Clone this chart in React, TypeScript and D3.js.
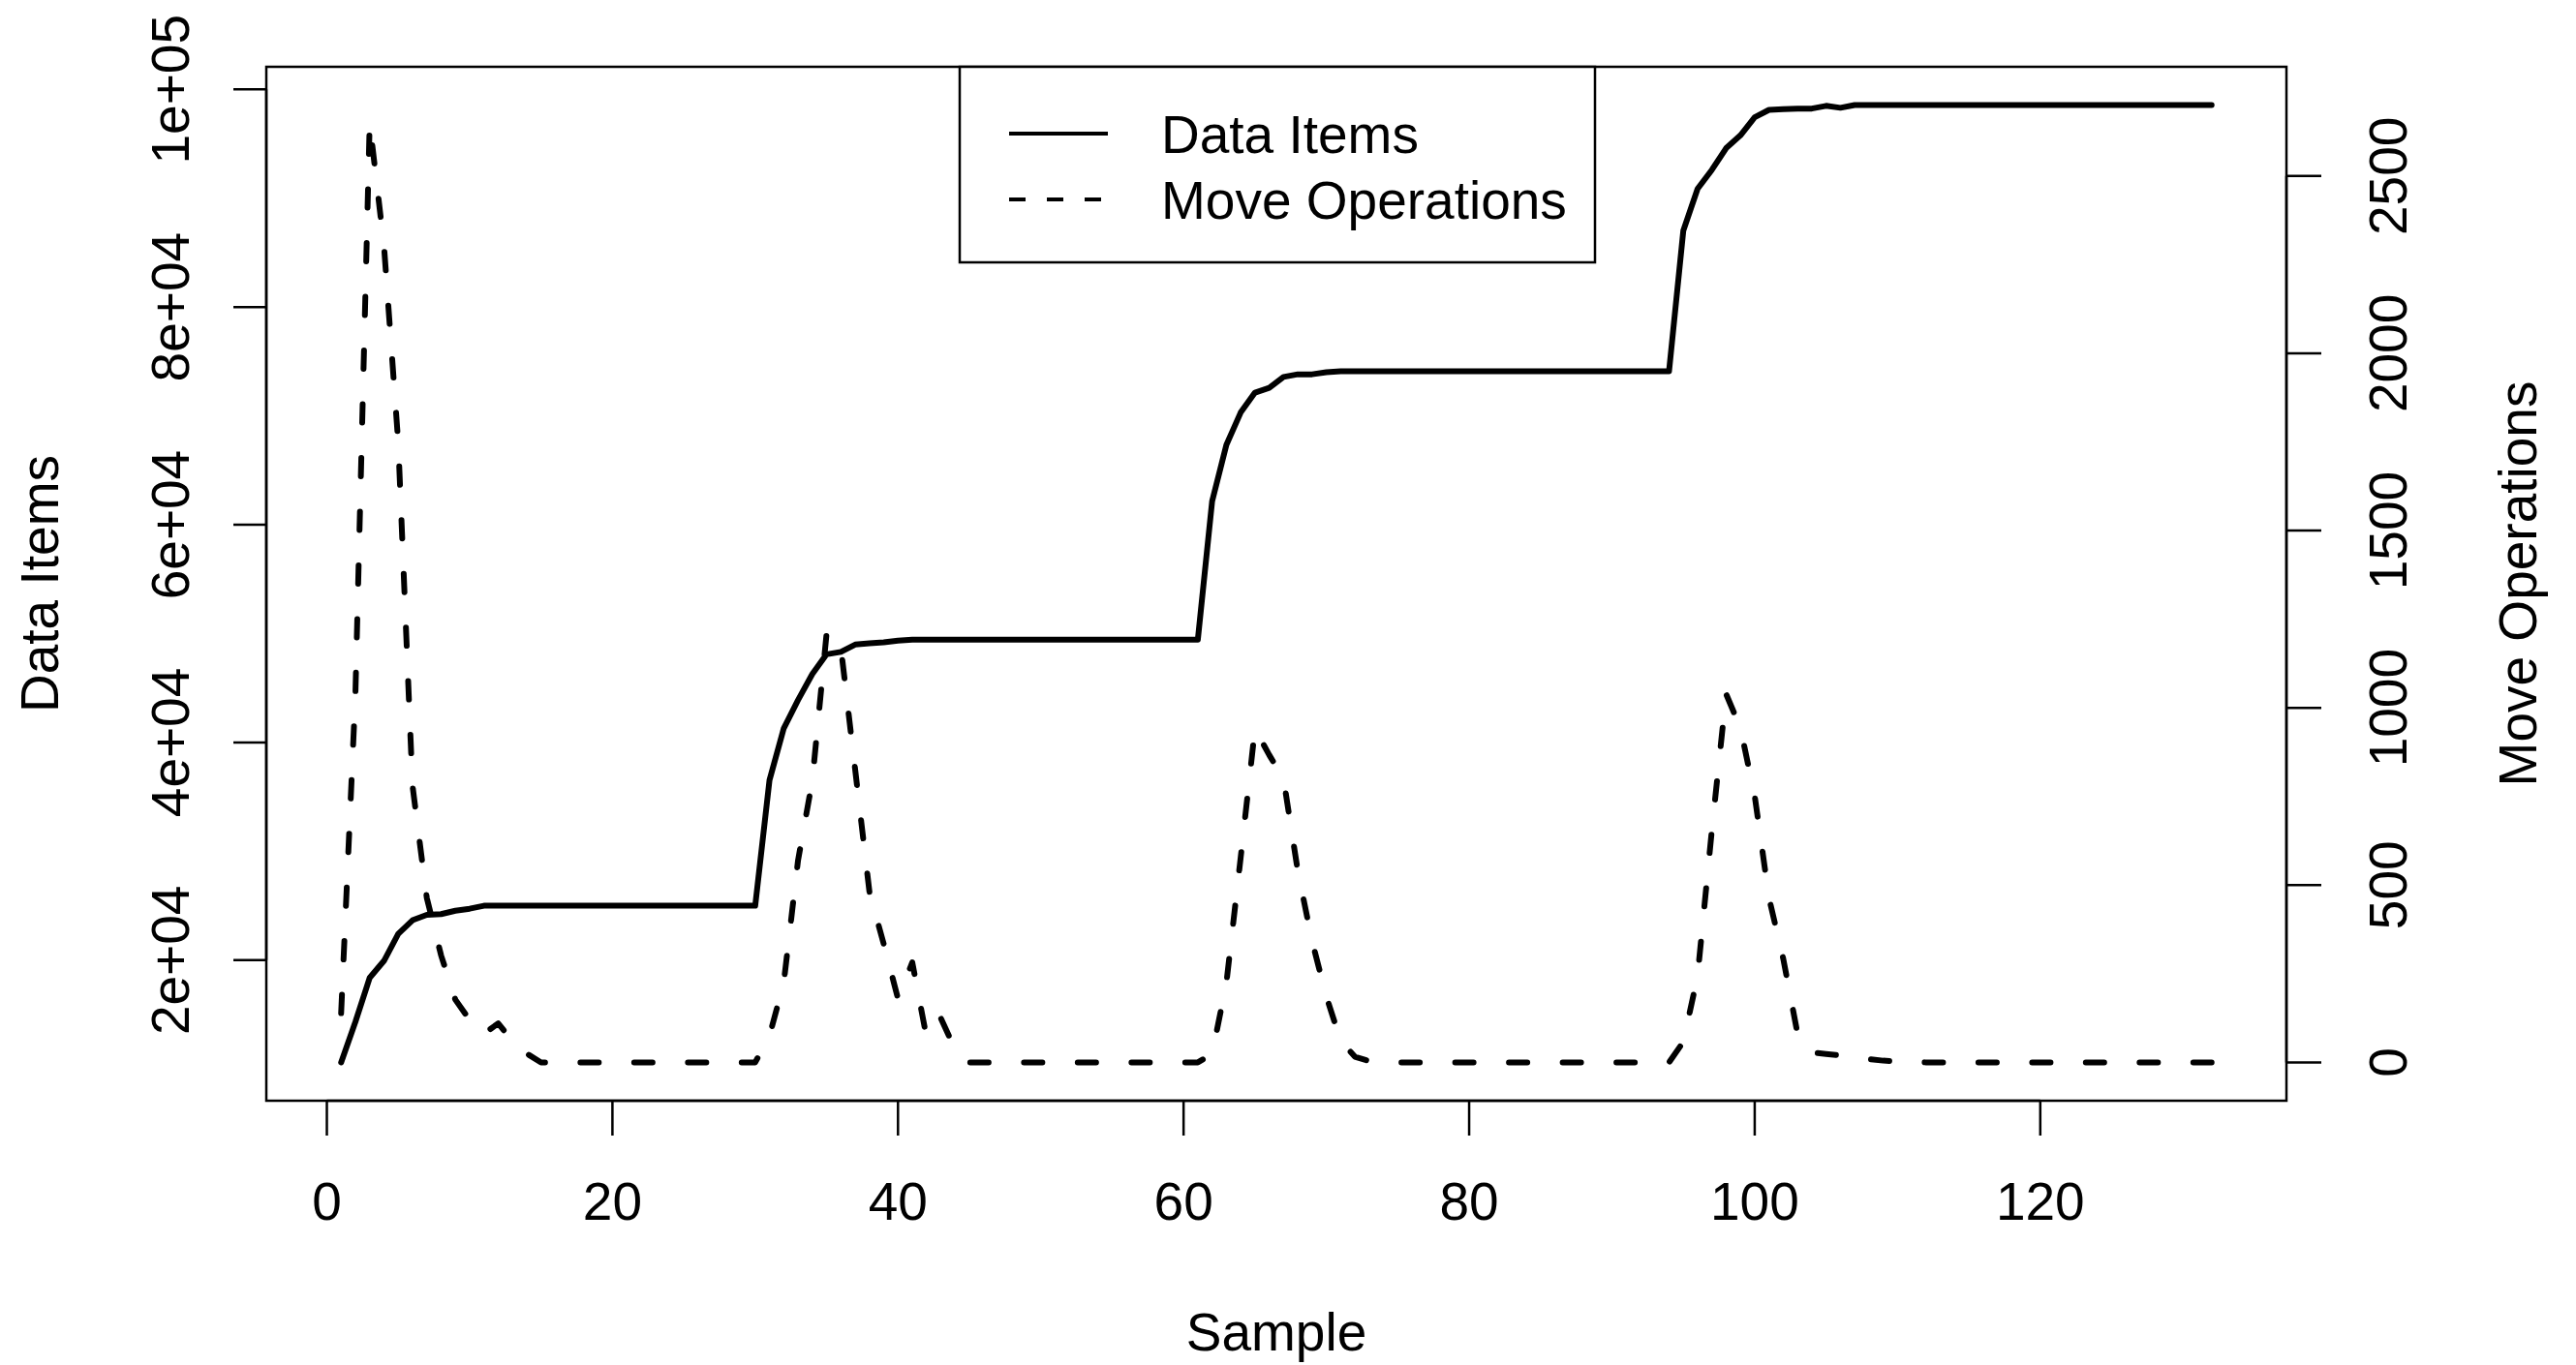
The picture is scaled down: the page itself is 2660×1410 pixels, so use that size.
import React from "react";
import * as d3 from "d3";

// sample index 1..132
const samples = d3.range(1, 133);

const dataItems = [
  10608, 14340, 18383, 19938, 22426, 23670, 24167, 24230, 24541, 24727,
  25000, 25000, 25000, 25000, 25000, 25000, 25000, 25000, 25000, 25000,
  25000, 25000, 25000, 25000, 25000, 25000, 25000, 25000, 25000, 25000,
  36540, 41300, 43900, 46280, 48100, 48320, 48990, 49100, 49200, 49360,
  49450, 49450, 49450, 49450, 49450, 49450, 49450, 49450, 49450, 49450,
  49450, 49450, 49450, 49450, 49450, 49450, 49450, 49450, 49450, 49450, 49450,
  62160, 67340, 70310, 72140, 72570, 73580, 73820, 73820, 74010,
  74100, 74100, 74100, 74100, 74100, 74100, 74100, 74100, 74100, 74100,
  74100, 74100, 74100, 74100, 74100, 74100, 74100, 74100, 74100, 74100,
  74100, 74100, 74100, 74100,
  87010, 90860, 92600, 94590, 95770, 97430, 98110, 98170, 98230, 98230, 98480, 98300,
  98550, 98550, 98550, 98550, 98550, 98550, 98550, 98550, 98550, 98550,
  98550, 98550, 98550, 98550, 98550, 98550, 98550, 98550, 98550, 98550,
  98550, 98550, 98550, 98550, 98550, 98550,
];

const moveOps = [
  139, 1039, 2650, 2304, 1748, 780, 464, 302, 177, 120, 81, 110, 60, 25,
  0, 0, 0, 0, 0, 0, 0, 0, 0, 0, 0, 0, 0, 0, 0, 0,
  75, 225, 570, 795, 1210, 1170, 826, 481, 334, 180, 282, 71, 125, 37,
  0, 0, 0, 0, 0, 0, 0, 0, 0, 0, 0, 0, 0, 0, 0, 0, 0,
  24, 224, 578, 941, 867, 800, 540, 342, 186, 61, 16, 4,
  0, 0, 0, 0, 0, 0, 0, 0, 0, 0, 0, 0, 0, 0, 0, 0, 0, 0, 0, 0, 0,
  58, 244, 656, 1039, 943, 752, 464, 292, 81, 28, 24, 20, 16, 9, 5, 3, 2,
  0, 0, 0, 0, 0, 0, 0, 0, 0, 0, 3, 0, 0, 0, 0, 0, 0, 0, 0, 0, 0,
];

const xTicks = [0, 20, 40, 60, 80, 100, 120];
const leftTicks = [20000, 40000, 60000, 80000, 100000];
const leftTickLabels = ["2e+04", "4e+04", "6e+04", "8e+04", "1e+05"];
const rightTicks = [0, 500, 1000, 1500, 2000, 2500];
const moveYlim = [0, 2700];

const legendLabels = ["Data Items", "Move Operations"];

// R style axis range: pad 4% each side
const pad = ([a, b]: number[]) => {
  const d = b - a;
  return [a - 0.04 * d, b + 0.04 * d];
};

export default function App() {
  const width = 2660;
  const height = 1410;
  const left = 275;
  const right = 2361;
  const top = 69;
  const bottom = 1137;
  const font = "'Liberation Sans', Arial, Helvetica, sans-serif";
  const fs = 55;

  const x = d3.scaleLinear().domain(pad([1, samples.length])).range([left, right]);
  const yL = d3.scaleLinear()
    .domain(pad(d3.extent(dataItems) as number[]))
    .range([bottom, top]);
  const yR = d3.scaleLinear().domain(pad(moveYlim)).range([bottom, top]);

  const itemsLine = d3.line<number>()
    .x((_, i) => x(samples[i]))
    .y((d) => yL(d))(dataItems) as string;
  const movesLine = d3.line<number>()
    .x((_, i) => x(samples[i]))
    .y((d) => yR(d))(moveOps) as string;

  const cx = (left + right) / 2;
  const cy = (top + bottom) / 2;

  // legend
  const lgLeft = 991;
  const lgRight = 1647;
  const lgBottom = 271;
  const rowY = [138, 206];

  return (
    <svg
      width={width}
      height={height}
      viewBox={`0 0 ${width} ${height}`}
      style={{ position: "absolute", left: 0, top: 0, background: "#fff" }}
      fontFamily={font}
      fontSize={fs}
    >
      <rect x={0} y={0} width={width} height={height} fill="#fff" />

      {/* series */}
      <path d={itemsLine} fill="none" stroke="#000" strokeWidth={6}
        strokeLinejoin="round" strokeLinecap="round" />
      <path d={movesLine} fill="none" stroke="#000" strokeWidth={6}
        strokeDasharray="19 36.5" strokeLinejoin="round" strokeLinecap="round" />

      {/* box */}
      <rect x={left} y={top} width={right - left} height={bottom - top}
        fill="none" stroke="#000" strokeWidth={2.5} />

      {/* x axis */}
      <g stroke="#000" strokeWidth={2.5}>
        <line x1={x(xTicks[0])} x2={x(xTicks[xTicks.length - 1])} y1={bottom} y2={bottom} />
        {xTicks.map((t) => (
          <line key={t} x1={x(t)} x2={x(t)} y1={bottom} y2={bottom + 36} />
        ))}
      </g>
      {xTicks.map((t) => (
        <text key={t} x={x(t)} y={1260} textAnchor="middle">{t}</text>
      ))}
      <text x={cx} y={1395} textAnchor="middle">Sample</text>

      {/* left axis */}
      <g stroke="#000" strokeWidth={2.5}>
        <line x1={left} x2={left} y1={yL(leftTicks[0])} y2={yL(leftTicks[leftTicks.length - 1])} />
        {leftTicks.map((t) => (
          <line key={t} x1={left - 34} x2={left} y1={yL(t)} y2={yL(t)} />
        ))}
      </g>
      {leftTicks.map((t, i) => (
        <text key={t} transform={`translate(195,${yL(t)}) rotate(-90)`} textAnchor="middle">
          {leftTickLabels[i]}
        </text>
      ))}
      <text transform={`translate(60,${cy}) rotate(-90)`} textAnchor="middle">Data Items</text>

      {/* right axis */}
      <g stroke="#000" strokeWidth={2.5}>
        <line x1={right} x2={right} y1={yR(rightTicks[0])} y2={yR(rightTicks[rightTicks.length - 1])} />
        {rightTicks.map((t) => (
          <line key={t} x1={right} x2={right + 36} y1={yR(t)} y2={yR(t)} />
        ))}
      </g>
      {rightTicks.map((t) => (
        <text key={t} transform={`translate(2485,${yR(t)}) rotate(-90)`} textAnchor="middle">{t}</text>
      ))}
      <text transform={`translate(2619,${cy}) rotate(-90)`} textAnchor="middle">Move Operations</text>

      {/* legend */}
      <rect x={lgLeft} y={top} width={lgRight - lgLeft} height={lgBottom - top}
        fill="#fff" stroke="#000" strokeWidth={2.5} />
      <line x1={1042} x2={1144} y1={rowY[0]} y2={rowY[0]} stroke="#000" strokeWidth={4} />
      <line x1={1042} x2={1144} y1={rowY[1]} y2={rowY[1]} stroke="#000" strokeWidth={4}
        strokeDasharray="17 22" />
      {legendLabels.map((l, i) => (
        <text key={l} x={1199} y={rowY[i]} dy="0.36em">{l}</text>
      ))}
    </svg>
  );
}
